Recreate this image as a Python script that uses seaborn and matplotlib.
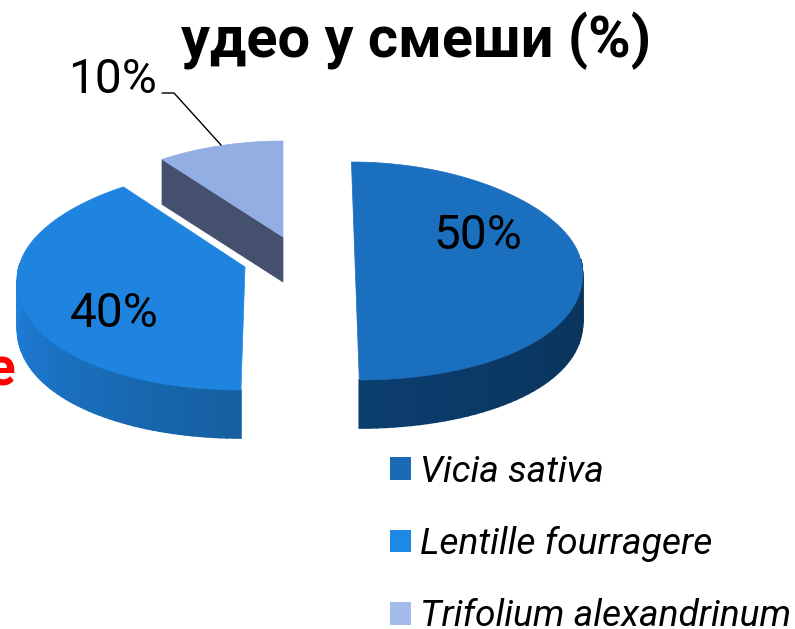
import numpy as np
import matplotlib
matplotlib.use("Agg")
import matplotlib.pyplot as plt
from matplotlib.patches import Patch
import seaborn as sns

species = ["Vicia sativa", "Lentille fourragere", "Trifolium alexandrinum"]
shares = [50, 40, 10]
top_colors = ["#1a6fbe", "#1e84e0", "#93aee2"]
legend_colors = ["#1b6ab8", "#1e88e5", "#a3bcec"]
side_colors = [["#0a3358", "#0b3d6e"], ["#1f80de", "#155f9f"], ["#44506e", "#44506e"]]
wall_color = "#44506e"

# pixel layout of each exploded slice: apex x, apex y, rx, ry up, ry down, shear
layout = [
    (355, 261, 226, 99, 119, 0.036),
    (245, 267, 226, 99, 123, -0.033),
    (283, 237, 224, 96, 96, 0.0),
]
depth = [48, 48, 45]
perspective = 0.1

sns.set_theme(style="white")
plt.rcParams["font.family"] = ["Roboto", "DejaVu Sans"]


def arc_points(angles, cfg):
    cx, cy, rx, ry_up, ry_down, shear = cfg
    s = np.sin(angles)
    c = np.cos(angles)
    dy = np.where(c > 0, -c * ry_up, -c * ry_down)
    x = cx + rx * s * (1 + perspective * dy / ry_down) + shear * dy
    return x, cy + dy


fig = plt.figure(figsize=(7.95, 6.29), dpi=100)
ax = fig.add_axes([0, 0, 1, 1])
ax.set_xlim(0, 795)
ax.set_ylim(629, 0)
ax.axis("off")

fractions = np.cumsum([0] + shares) / sum(shares) * 2 * np.pi
for i, share in enumerate(shares):
    start, end = fractions[i], fractions[i + 1]
    cfg = layout[i]
    angles = np.linspace(start, end, 90)
    x, y = arc_points(angles, cfg)

    # outer rim, only the part that faces the viewer
    low = np.cos(angles) < 0.05
    if low.any():
        xs, ys = x[low], y[low]
        steps = sns.blend_palette(side_colors[i], len(xs) - 1)
        if i == 1:
            steps = steps[::-1]
        for k in range(len(xs) - 1):
            ax.fill([xs[k], xs[k + 1], xs[k + 1], xs[k]],
                    [ys[k], ys[k + 1], ys[k + 1] + depth[i], ys[k] + depth[i]],
                    color=steps[k], lw=1.2)

    # cut wall of the small slice
    if i == 2:
        ax.fill([x[0], cfg[0], cfg[0], x[0]],
                [y[0], cfg[1], cfg[1] + depth[i], y[0] + depth[i]],
                color=wall_color, lw=0.5)

    ax.fill(np.r_[cfg[0], x], np.r_[cfg[1], y], color=top_colors[i], lw=0.5)

label_xy = [(478, 236), (114, 314), (112, 80)]
for xy, share in zip(label_xy, shares):
    ax.text(xy[0], xy[1], f"{share}%", fontsize=34.5, color="black",
            ha="center", va="center", fontweight="normal")

ax.plot([162, 174, 221], [93, 93, 145], color="black", lw=1)

ax.text(416, 41, "удео у смеши (%)", fontsize=41.6, fontweight="bold",
        color="black", ha="center", va="center")
ax.text(15, 386, "e", fontsize=38, fontweight="bold", color="#ff0000",
        ha="right", va="baseline", clip_on=False)

handles = [Patch(facecolor=c, edgecolor="none") for c in legend_colors]
ax.legend(handles, species, loc="upper left", bbox_to_anchor=(390, 454),
          bbox_transform=ax.transData, frameon=False, labelcolor="black",
          prop={"family": "Roboto", "style": "italic", "size": 26.7},
          handlelength=0.57, handleheight=0.57, handletextpad=0.24,
          labelspacing=0.975, borderpad=0, borderaxespad=0)

fig.savefig("out.png", dpi=100)
